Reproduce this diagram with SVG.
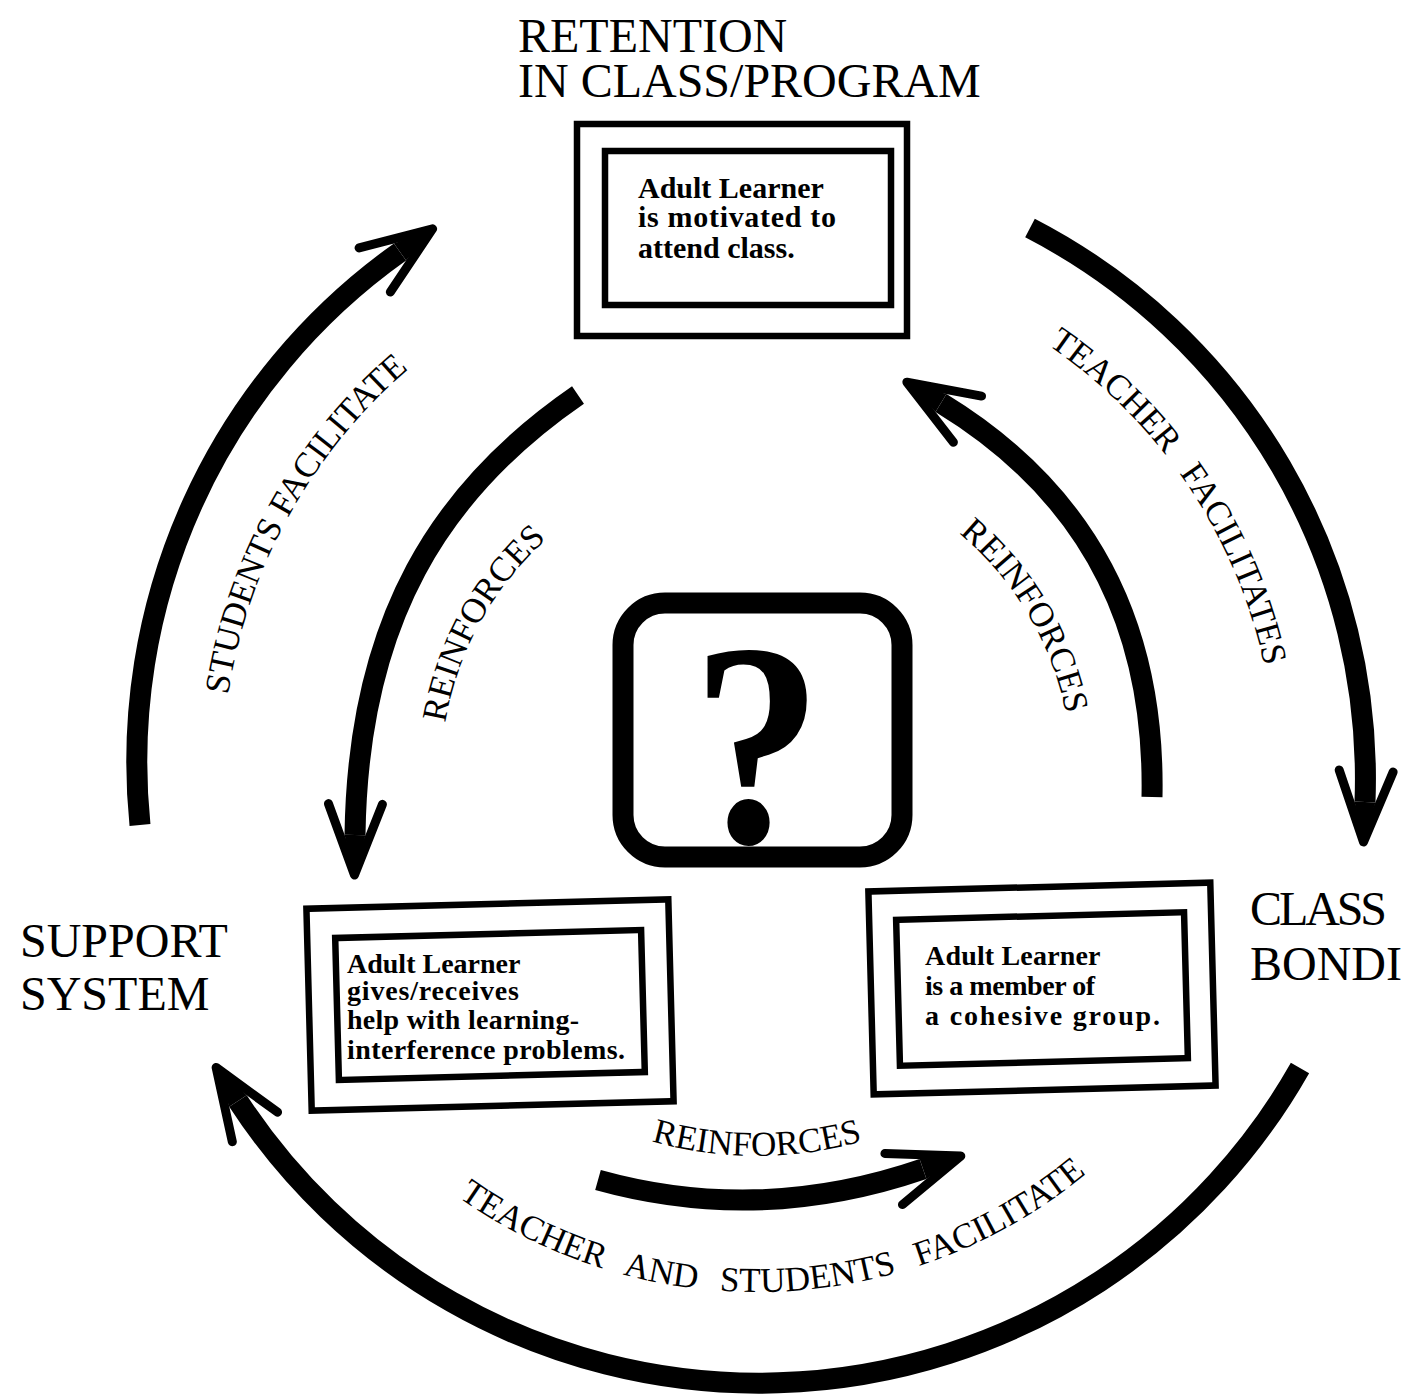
<svg xmlns="http://www.w3.org/2000/svg" width="1411" height="1398" viewBox="0 0 1411 1398">
  <style>
    .shaft { fill: none; stroke: #000; stroke-width: 21; stroke-linecap: butt; marker-end: url(#head); }
    .frame { fill: none; stroke: #000; stroke-width: 6.5; }
    .qbox { fill: none; stroke: #000; stroke-width: 21; }
    .title { font-family: "Liberation Serif", "Times New Roman", serif; font-size: 48px; fill: #000; }
    .arc-label { font-family: "Liberation Serif", "Times New Roman", serif; font-size: 35px; fill: #000; }
    .box-text { font-family: "Liberation Serif", "Times New Roman", serif; font-weight: bold; fill: #000; }
  </style>
  <defs>
    <!-- swept arrowhead: tapered point plus two thin barbs -->
    <marker id="head" markerUnits="userSpaceOnUse" markerWidth="140" markerHeight="100"
            viewBox="-50 -50 140 100" refX="0" refY="0" orient="auto" overflow="visible">
      <path d="M0,-10.5 L40,0 L0,10.5 Z" fill="#000"/>
      <path d="M-31,-27 L40,0 L-31,27" fill="none" stroke="#000" stroke-width="9"
            stroke-linecap="round" stroke-linejoin="round"/>
    </marker>
    <!-- baselines for the curved labels -->
    <path id="pStudents" d="M231.8,877.1 A535,535 0 0 1 565.3,275.5"/>
    <path id="pTeacher" d="M900,276.1 A519,519 0 0 1 1273.1,829.2"/>
    <path id="pBottom" d="M373.7,1122 A517,517 0 0 0 1165.3,1092.2"/>
    <path id="pReinL" d="M446.9,835.8 A316,316 0 0 1 643.2,480.2"/>
    <path id="pReinR" d="M861.4,477.8 A315,315 0 0 1 1067.8,826.2"/>
    <path id="pReinB" d="M512.1,1066.8 A381,381 0 0 0 1001.9,1066.8"/>
  </defs>

  <rect width="1411" height="1398" fill="#fff"/>

  <!-- corner headings -->
  <g id="retention-heading">
    <text class="title" x="518" y="52">RETENTION</text>
    <text class="title" x="518" y="97">IN CLASS/PROGRAM</text>
  </g>
  <g id="support-heading">
    <text class="title" x="20" y="957">SUPPORT</text>
    <text class="title" x="20" y="1010">SYSTEM</text>
  </g>
  <g id="bonding-heading">
    <text class="title" x="1250" y="925" textLength="137">CLASS</text>
    <text class="title" x="1250" y="980">BONDI</text>
  </g>

  <!-- learner boxes -->
  <g id="box-retention">
    <rect class="frame" x="577" y="124" width="330" height="212"/>
    <rect class="frame" x="605" y="151" width="286" height="154"/>
    <text class="box-text" font-size="30">
      <tspan x="638" y="198">Adult Learner</tspan>
      <tspan x="638" y="227" textLength="198">is motivated to</tspan>
      <tspan x="638" y="258">attend class.</tspan>
    </text>
  </g>

  <g id="box-support">
    <g transform="rotate(-1.5 490 1005)">
      <rect class="frame" x="309" y="904" width="362" height="202"/>
      <rect class="frame" x="337" y="934" width="306" height="142"/>
    </g>
    <text class="box-text" font-size="28">
      <tspan x="347" y="973">Adult Learner</tspan>
      <tspan x="347" y="1000" textLength="172">gives/receives</tspan>
      <tspan x="347" y="1029" textLength="232">help with learning-</tspan>
      <tspan x="347" y="1059" textLength="278">interference problems.</tspan>
    </text>
  </g>

  <g id="box-bonding">
    <g transform="rotate(-1.5 1042 989)">
      <rect class="frame" x="871" y="887" width="342" height="203"/>
      <rect class="frame" x="898" y="916" width="288" height="146"/>
    </g>
    <text class="box-text" font-size="28">
      <tspan x="925" y="965" textLength="175">Adult Learner</tspan>
      <tspan x="925" y="995" textLength="170">is a member of</tspan>
      <tspan x="925" y="1025" textLength="235">a cohesive group.</tspan>
    </text>
  </g>

  <g id="question">
    <rect class="qbox" x="623" y="603" width="279" height="254" rx="42"/>
    <text transform="translate(757 842) scale(0.9 1)" x="0" y="0" text-anchor="middle"
          font-family="Liberation Serif, Times New Roman, serif" font-weight="bold" font-size="290">?</text>
  </g>

  <!-- curved arrows -->
  <g id="connectors">
    <path class="shaft" d="M140,825 A625,625 0 0 1 400,252"/>
    <path class="shaft" d="M1030,228 A620,620 0 0 1 1365,802"/>
    <path class="shaft" d="M1300,1068 A622,622 0 0 1 238,1101"/>
    <path class="shaft" d="M578,395 C440,490 358,620 355,835"/>
    <path class="shaft" d="M1152,797 C1155,640 1100,500 941,403"/>
    <path class="shaft" d="M598,1180 Q760,1225 923,1169"/>
  </g>

  <!-- arrow labels -->
  <g id="labels">
    <text class="arc-label"><textPath href="#pStudents" startOffset="50%" text-anchor="middle">STUDENTS FACILITATE</textPath></text>
    <text class="arc-label" word-spacing="14"><textPath href="#pTeacher" startOffset="50%" text-anchor="middle">TEACHER FACILITATES</textPath></text>
    <text class="arc-label" word-spacing="14"><textPath href="#pBottom" startOffset="50%" text-anchor="middle">TEACHER AND STUDENTS FACILITATE</textPath></text>
    <text class="arc-label"><textPath href="#pReinL" startOffset="50%" text-anchor="middle">REINFORCES</textPath></text>
    <text class="arc-label"><textPath href="#pReinR" startOffset="50%" text-anchor="middle">REINFORCES</textPath></text>
    <text class="arc-label"><textPath href="#pReinB" startOffset="50%" text-anchor="middle">REINFORCES</textPath></text>
  </g>
</svg>
